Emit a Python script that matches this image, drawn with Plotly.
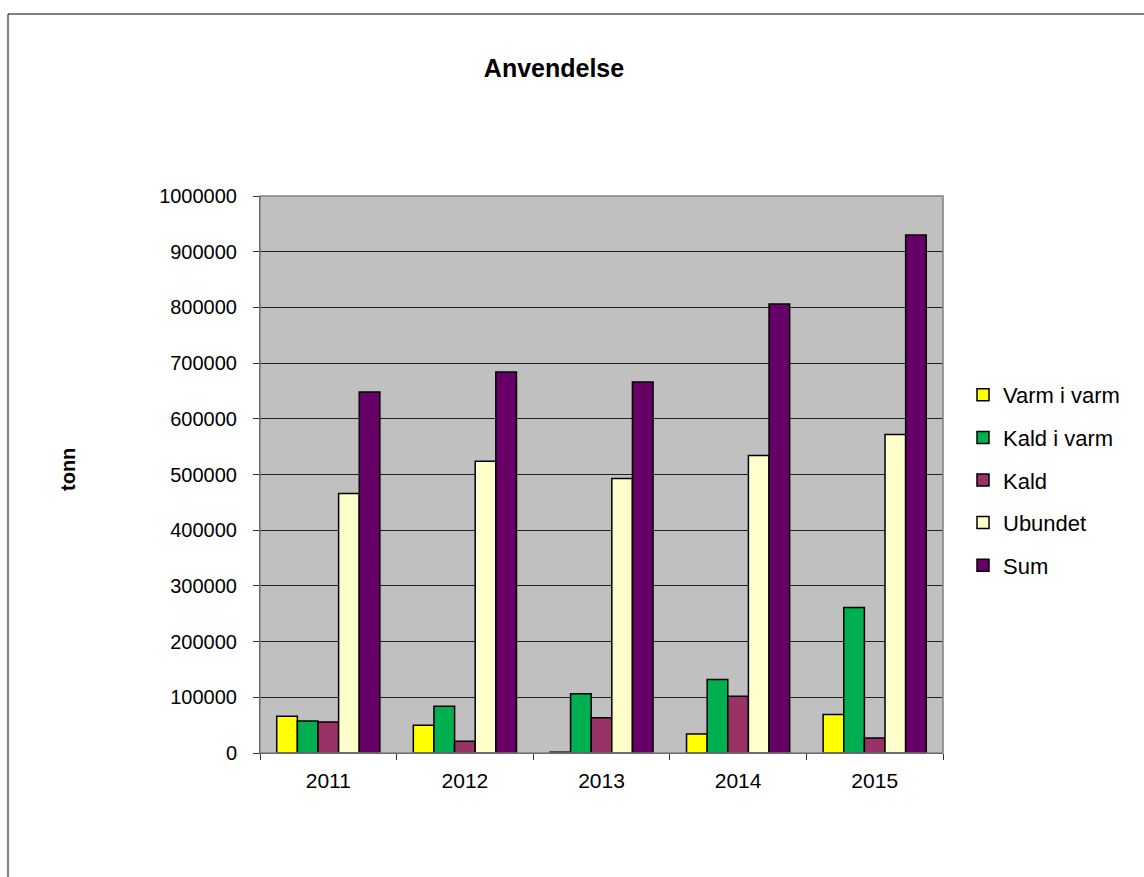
import plotly.graph_objects as go

years = ["2011", "2012", "2013", "2014", "2015"]
varm_i_varm = [66000, 50000, 1500, 34000, 69000]
kald_i_varm = [57500, 84000, 106500, 132000, 261000]
kald = [55700, 21000, 63500, 102000, 27000]
ubundet = [466000, 524000, 493000, 534000, 572000]
sum_ = [648000, 684000, 666000, 806000, 930000]

series = [
    ("Varm i varm", varm_i_varm, "#FFFF00"),
    ("Kald i varm", kald_i_varm, "#00B050"),
    ("Kald", kald, "#993366"),
    ("Ubundet", ubundet, "#FFFFCC"),
    ("Sum", sum_, "#660066"),
]

FONT = "Liberation Sans, Arial, sans-serif"

fig = go.Figure()
for i, (name, vals, col) in enumerate(series):
    fig.add_trace(go.Bar(
        x=years, y=vals, name=name, legendgroup=f"g{i}",
        marker=dict(color=col, line=dict(color="black", width=1.5)),
    ))

W, H = 1144, 877
L, R, T, B = 260, 201, 196, 124
pw = W - L - R
ph = H - T - B

def px_x(p):
    return (p - L) / pw

def px_y(p):
    return (H - B - p) / ph

fig.update_layout(
    width=W, height=H,
    margin=dict(l=L, r=R, t=T, b=B, pad=0),
    paper_bgcolor="white",
    plot_bgcolor="#C0C0C0",
    barmode="group",
    bargap=0.245,
    bargroupgap=0,
    font=dict(family=FONT, color="black", size=18),
    title=dict(text="<b>Anvendelse</b>", x=554 / W, xref="container", xanchor="center",
               y=1 - 68 / H, yref="container", yanchor="middle",
               font=dict(family=FONT, size=25, color="black")),
    legend=dict(x=px_x(963), xanchor="left", y=px_y(374), yanchor="top",
                font=dict(family=FONT, size=22, color="black"),
                tracegroupgap=11, bgcolor="rgba(0,0,0,0)", itemwidth=30),
    showlegend=True,
)

fig.update_xaxes(
    type="category",
    showgrid=False,
    showline=True, linecolor="#333333", linewidth=1,
    ticks="outside", ticklen=6, tickcolor="#333333", tickson="boundaries",
    tickfont=dict(family=FONT, size=21, color="black"),
    ticklabelstandoff=9,
)
fig.update_yaxes(
    range=[0, 1000000], dtick=100000, tickformat="d",
    showgrid=True, gridcolor="#222222", gridwidth=1,
    showline=True, linecolor="#333333", linewidth=1,
    ticks="outside", ticklen=6, tickcolor="#333333",
    tickfont=dict(family=FONT, size=20, color="black"),
    ticklabelstandoff=12,
    zeroline=False,
)

# plot area border (gray)
fig.add_shape(type="rect", xref="paper", yref="paper", x0=0, x1=1, y0=0, y1=1,
              line=dict(color="#808080", width=1.5), fillcolor="rgba(0,0,0,0)", layer="above")
# outer chart frame
fig.add_shape(type="rect", xref="paper", yref="paper",
              x0=px_x(8), x1=px_x(1200), y0=px_y(14), y1=px_y(950),
              line=dict(color="black", width=1), fillcolor="rgba(0,0,0,0)")

fig.add_annotation(text="<b>tonn</b>", xref="paper", yref="paper",
                   x=px_x(68), y=px_y(470), textangle=-90, showarrow=False,
                   xanchor="center", yanchor="middle",
                   font=dict(family=FONT, size=20, color="black"))

fig.write_html("out.html")
